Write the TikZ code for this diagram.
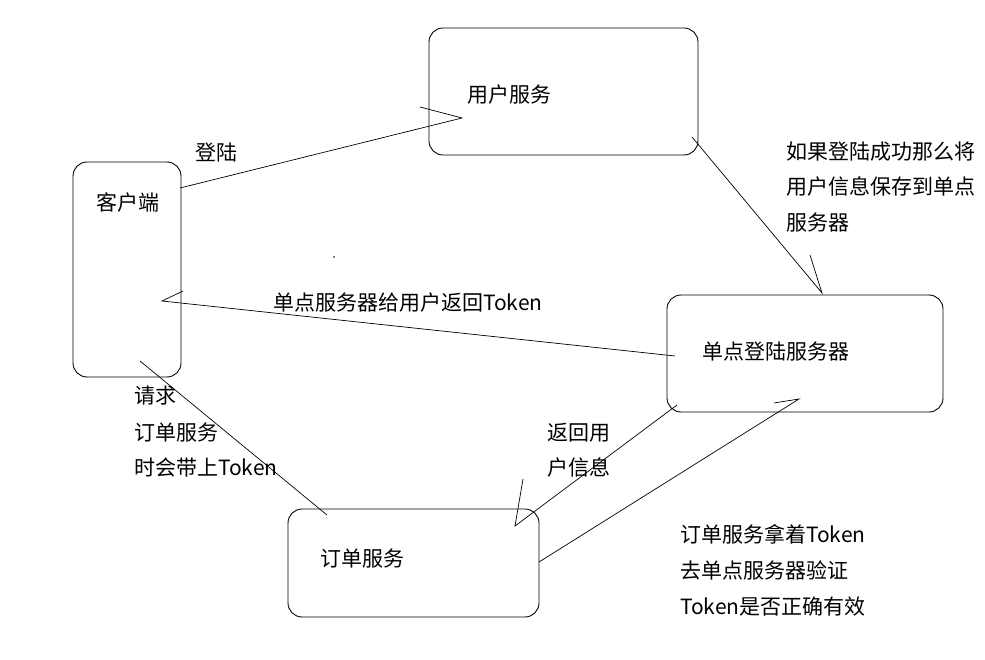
\documentclass[tikz,border=0pt]{standalone}
\usepackage{fontspec}
\setmainfont{Noto Sans CJK SC}
\tikzset{
  box/.style={draw, rounded corners=14pt, line width=0.9pt, anchor=north west, inner sep=0pt, outer sep=0pt},
  lbl/.style={anchor=base west, inner sep=0pt, font=\fontsize{21pt}{25pt}\selectfont},
  conn/.style={line width=0.7pt},
}
\begin{document}
\begin{tikzpicture}[x=1pt,y=-1pt]
\useasboundingbox (0,0) rectangle (985,660);
% boxes
\node[box, minimum width=269pt, minimum height=127pt] (user) at (429,28) {};
\node[box, minimum width=108pt, minimum height=215pt] (client) at (73,162) {};
\node[box, minimum width=276pt, minimum height=117pt] (sso) at (667,295) {};
\node[box, minimum width=251pt, minimum height=108pt] (order) at (288,509) {};
% box labels
\node[lbl] (userlbl) at (467,103) {用户服务};
\node[lbl] (clientlbl) at (96,211) {客户端};
\node[lbl] (ssolbl) at (702,359) {单点登陆服务器};
\node[lbl] (orderlbl) at (320,566) {订单服务};
% connector end points
\coordinate (loginS) at (180,188);
\coordinate (loginT) at (462,118);
\coordinate (loginB) at (420,107);
\coordinate (saveS) at (692,137);
\coordinate (saveT) at (822,293);
\coordinate (saveB) at (810,255);
\coordinate (tokS) at (675,356);
\coordinate (tokT) at (162,301);
\coordinate (tokB) at (183,291);
\coordinate (reqS) at (140,361);
\coordinate (reqT) at (327,515);
\coordinate (retS) at (677,405);
\coordinate (retT) at (515,526);
\coordinate (retB) at (523,479);
\coordinate (verS) at (539,562);
\coordinate (verT) at (799,399);
\coordinate (verB) at (774,403);
% connectors
\draw[conn] (loginS) -- (loginT) -- (loginB);
\draw[conn] (saveS) -- (saveT) -- (saveB);
\draw[conn] (tokS) -- (tokT) -- (tokB);
\draw[conn] (reqS) -- (reqT);
\draw[conn] (retS) -- (retT) -- (retB);
\draw[conn] (verS) -- (verT) -- (verB);
% connector labels
\node[lbl] (l1) at (195,161) {登陆};
\node[lbl] (l2a) at (786,160) {如果登陆成功那么将};
\node[lbl] (l2b) at (786,195) {用户信息保存到单点};
\node[lbl] (l2c) at (786,231) {服务器};
\node[lbl] (l3) at (273,311) {单点服务器给用户返回Token};
\node[lbl] (l4a) at (134,403) {请求};
\node[lbl] (l4b) at (134,440) {订单服务};
\node[lbl] (l4c) at (134,475) {时会带上Token};
\node[lbl] (l5a) at (547,440) {返回用};
\node[lbl] (l5b) at (547,475) {户信息};
\node[lbl] (l6a) at (680,542) {订单服务拿着Token};
\node[lbl] (l6b) at (680,578) {去单点服务器验证};
\node[lbl] (l6c) at (680,614) {Token是否正确有效};
% stray dot
\fill (334,257) circle (0.8pt);
\end{tikzpicture}
\end{document}
